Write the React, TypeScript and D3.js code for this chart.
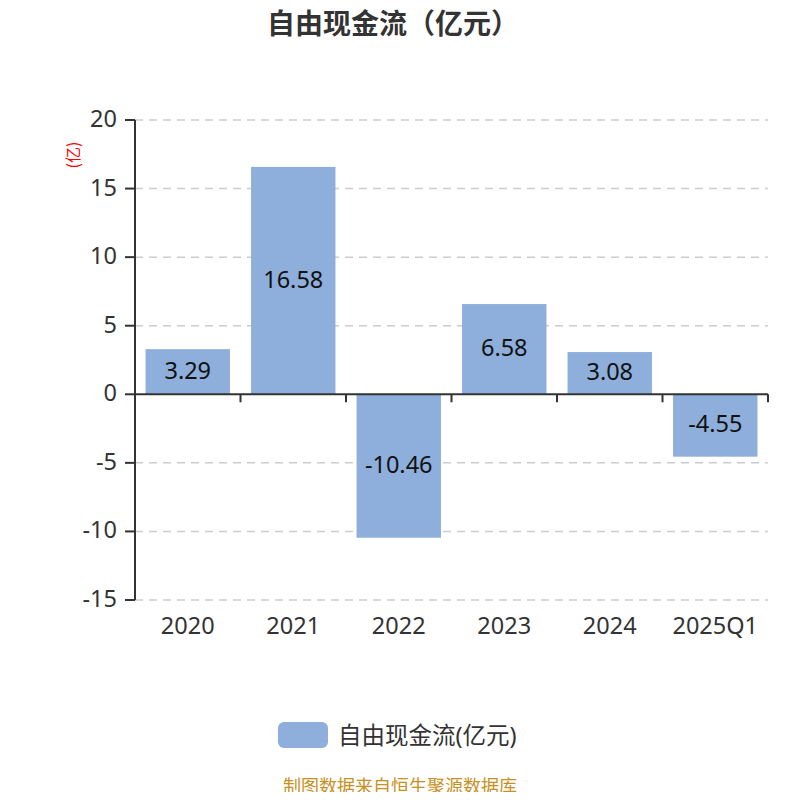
import React from 'react';
import * as d3 from 'd3';

const categories = ['2020', '2021', '2022', '2023', '2024', '2025Q1'];
const values = [3.29, 16.58, -10.46, 6.58, 3.08, -4.55];
const yTicks = [20, 15, 10, 5, 0, -5, -10, -15];

const title = '自由现金流（亿元）';
const seriesName = '自由现金流(亿元)';
const unitLabel = '(亿)';
const source = '制图数据来自恒生聚源数据库';

const barColor = '#8eaedb';
const font = '"Noto Sans", "Noto Sans CJK SC", sans-serif';

const App: React.FC = () => {
  const width = 800;
  const height = 800;
  const margin = { top: 120, right: 32, bottom: 200, left: 135 };

  const x = d3.scaleBand<string>()
    .domain(categories)
    .range([margin.left, width - margin.right])
    .paddingInner(0.2)
    .paddingOuter(0.1);

  const y = d3.scaleLinear()
    .domain([-15, 20])
    .range([height - margin.bottom, margin.top]);

  const step = x.step();
  const boundaries = d3.range(categories.length + 1).map(i => margin.left + i * step);

  return (
    <div style={{ margin: -8 }}>
      <svg width={width} height={height} style={{ display: 'block', fontFamily: font }}>
        <rect width={width} height={height} fill="#fff" />
        <text x={393} y={34} textAnchor="middle" fontSize={28} fontWeight="bold" fill="#333">{title}</text>

        {/* grid */}
        {yTicks.filter(t => t !== 0).map(t => (
          <line key={t} x1={margin.left} x2={width - margin.right} y1={y(t)} y2={y(t)}
            stroke="#ccc" strokeWidth={1.5} strokeDasharray="8,6" />
        ))}

        {/* bars */}
        {values.map((v, i) => (
          <rect key={categories[i]} x={x(categories[i])} width={x.bandwidth()}
            y={Math.min(y(v), y(0))} height={Math.abs(y(v) - y(0))} fill={barColor} />
        ))}

        {/* value labels */}
        {values.map((v, i) => (
          <text key={'l' + i} x={(x(categories[i]) || 0) + x.bandwidth() / 2} y={(y(v) + y(0)) / 2 + 7}
            textAnchor="middle" fontSize={23.5} fill="#111">{v.toFixed(2)}</text>
        ))}

        {/* y axis */}
        <line x1={margin.left} x2={margin.left} y1={y(20)} y2={y(-15)} stroke="#333" strokeWidth={2} />
        {yTicks.map(t => (
          <g key={t}>
            <line x1={margin.left - 10} x2={margin.left} y1={y(t)} y2={y(t)} stroke="#333" strokeWidth={2} />
            <text x={margin.left - 18} y={y(t) + 7} textAnchor="end" fontSize={23.5} fill="#333">{t}</text>
          </g>
        ))}
        <text transform={`translate(79,155) rotate(-90)`} textAnchor="middle" fontSize={16} fill="red"
          fontFamily='"Noto Sans CJK SC", sans-serif'>{unitLabel}</text>

        {/* x axis at zero */}
        <line x1={margin.left} x2={width - margin.right} y1={y(0)} y2={y(0)} stroke="#333" strokeWidth={2} />
        {boundaries.map((b, i) => (
          <line key={i} x1={b} x2={b} y1={y(0)} y2={y(0) + 8} stroke="#333" strokeWidth={2} />
        ))}
        {categories.map(c => (
          <text key={c} x={(x(c) || 0) + x.bandwidth() / 2} y={634} textAnchor="middle" fontSize={23.5} fill="#333">{c}</text>
        ))}

        {/* legend */}
        <rect x={278} y={722} width={50} height={26} rx={6} fill={barColor} />
        <text x={338} y={744} fontSize={23.5} fill="#333">{seriesName}</text>

        <text x={400} y={793} textAnchor="middle" fontSize={18} fill="#c8901e">{source}</text>
      </svg>
    </div>
  );
};

export default App;
